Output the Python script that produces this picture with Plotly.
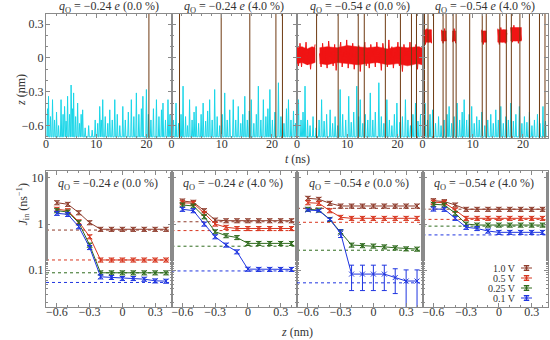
import plotly.graph_objects as go

# ---------------- data: top panels (trajectories) ----------------
q_labels = ["−0.24", "−0.24", "−0.54", "−0.54"]
pct_labels = ["0.0", "4.0", "0.0", "4.0"]

spk_t = [
    [0.3, 0.5, 0.9, 1.3, 1.7, 2.1, 2.5, 3.0, 3.4, 3.7, 4.0, 4.3, 4.7, 5.0, 5.3, 5.5, 5.9, 6.3, 6.7, 7.0,
     7.3, 7.8, 8.5, 9.2, 9.8, 10.3, 10.7, 11.0, 11.3, 11.8, 12.3, 12.7, 13.2, 13.7, 14.2, 14.7, 15.3, 15.8,
     16.4, 17.0, 17.5, 18.0, 18.5, 19.0, 19.3, 20.0, 20.4, 20.9, 21.4, 22.0, 22.5, 23.0, 23.3, 23.8, 24.3, 24.7],
    [0.4, 0.9, 1.4, 1.9, 2.3, 2.8, 3.2, 3.6, 4.1, 4.5, 4.9, 5.4, 5.9, 6.3, 6.8, 7.2, 7.6, 8.1, 8.6, 9.1,
     9.6, 10.1, 10.6, 11.1, 11.6, 12.3, 12.8, 13.3, 13.8, 14.2, 14.6, 15.1, 15.5, 15.9, 16.4, 16.9, 17.3,
     17.8, 18.3, 18.8, 19.2, 19.6, 20.1, 20.6, 21.3, 21.8, 22.4, 22.9, 23.3, 23.8, 24.3, 24.7],
    [0.3, 0.8, 1.2, 1.6, 2.1, 2.6, 3.2, 3.8, 4.4, 4.9, 5.4, 5.9, 6.6, 7.1, 7.6, 8.1, 8.6, 9.1, 9.7, 10.3,
     10.8, 11.3, 11.9, 12.3, 12.6, 13.1, 13.6, 14.1, 14.6, 15.1, 15.6, 16.3, 16.8, 17.3, 17.9, 18.4, 18.9,
     19.4, 19.9, 20.5, 21.0, 21.6, 22.1, 22.6, 23.1, 23.6, 24.1, 24.6],
    [0.5, 1.0, 1.5, 2.0, 2.6, 3.2, 3.7, 4.3, 4.9, 5.3, 5.8, 6.3, 6.9, 7.4, 7.9, 8.3, 8.8, 9.3, 9.8, 10.3,
     10.8, 11.3, 11.8, 12.4, 13.0, 13.6, 14.1, 14.6, 15.1, 15.6, 16.1, 16.6, 17.1, 17.6, 18.1, 18.6, 19.3,
     19.8, 20.3, 20.8, 21.3, 21.8, 22.3, 22.9, 23.4, 24.0, 24.5],
]
spk_z = [
    [-0.45, -0.34, -0.52, -0.37, -0.55, -0.48, -0.60, -0.37, -0.50, -0.43, -0.56, -0.34, -0.50, -0.24, -0.45,
     -0.31, -0.52, -0.40, -0.58, -0.50, -0.46, -0.62, -0.60, -0.64, -0.55, -0.58, -0.43, -0.55, -0.37, -0.52,
     -0.58, -0.46, -0.55, -0.37, -0.50, -0.60, -0.43, -0.55, -0.48, -0.37, -0.52, -0.31, -0.50, -0.45, -0.34,
     -0.28, -0.50, -0.55, -0.45, -0.37, -0.52, -0.46, -0.40, -0.55, -0.37, -0.50],
    [-0.55, -0.40, -0.58, -0.50, -0.25, -0.52, -0.60, -0.37, -0.55, -0.48, -0.43, -0.58, -0.50, -0.40, -0.56,
     -0.47, -0.37, -0.55, -0.28, -0.52, -0.60, -0.50, -0.31, -0.55, -0.46, -0.37, -0.55, -0.43, -0.58, -0.50,
     -0.34, -0.55, -0.47, -0.37, -0.58, -0.50, -0.25, -0.55, -0.37, -0.52, -0.45, -0.28, -0.55, -0.48, -0.22,
     -0.52, -0.58, -0.45, -0.37, -0.55, -0.47, -0.58],
    [-0.37, -0.55, -0.48, -0.25, -0.55, -0.60, -0.52, -0.62, -0.55, -0.37, -0.56, -0.50, -0.46, -0.58, -0.52,
     -0.60, -0.28, -0.50, -0.55, -0.34, -0.57, -0.48, -0.25, -0.52, -0.37, -0.58, -0.50, -0.55, -0.31, -0.55,
     -0.48, -0.22, -0.52, -0.58, -0.37, -0.55, -0.60, -0.50, -0.40, -0.57, -0.52, -0.37, -0.55, -0.60, -0.50,
     -0.40, -0.56, -0.50],
    [-0.40, -0.55, -0.50, -0.46, -0.58, -0.52, -0.60, -0.55, -0.50, -0.43, -0.58, -0.52, -0.40, -0.55, -0.48,
     -0.37, -0.55, -0.50, -0.43, -0.58, -0.52, -0.55, -0.48, -0.60, -0.55, -0.50, -0.58, -0.46, -0.55, -0.43,
     -0.58, -0.52, -0.55, -0.40, -0.56, -0.50, -0.43, -0.58, -0.52, -0.57, -0.48, -0.60, -0.55, -0.50, -0.58,
     -0.43, -0.56],
]

cross_t = [
    [20.5],
    [1.6, 9.9, 15.6, 20.8, 22.1],
    [3.9, 8.2, 12.2, 13.4, 17.6, 20.6, 22.8, 23.8],
    [0.4, 1.1, 2.2, 4.1, 4.7, 6.1, 6.7, 9.4, 11.9, 12.7, 15.4, 16.7, 17.7, 19.4, 21.3, 23.3, 24.4],
]

# panel 3: dense red band around z ~ 0 (envelope + noisy trace)
band3_t = [0.0, 1.0, 2.0, 3.0, 3.6, None, 4.5, 6.0, 8.0, 10.0, 12.0, 14.0, 16.0, 18.0, 20.0, 22.0, 24.0, 24.9]
band3_hi = [0.09, 0.10, 0.08, 0.10, 0.09, None, 0.09, 0.10, 0.09, 0.11, 0.10, 0.09, 0.10, 0.08, 0.10, 0.09, 0.10, 0.09]
band3_lo = [-0.05, -0.04, -0.06, -0.05, -0.04, None, -0.05, -0.06, -0.04, -0.05, -0.06, -0.05, -0.04, -0.06, -0.05,
            -0.07, -0.05, -0.06]
red_t3 = [0.0, 0.3, 0.6, 0.9, 1.2, 1.5, 1.8, 2.1, 2.4, 2.7, 3.0, 3.3, 3.6, None,
          4.5, 4.8, 5.1, 5.4, 5.7, 6.0, 6.3, 6.6, 6.9, 7.2, 7.5, 7.8, 8.1, 8.4, 8.7, 9.0, 9.3, 9.6, 9.9,
          10.2, 10.5, 10.8, 11.1, 11.4, 11.7, 12.0, 12.3, 12.6, 12.9, 13.2, 13.5, 13.8, 14.1, 14.4, 14.7,
          15.0, 15.3, 15.6, 15.9, 16.2, 16.5, 16.8, 17.1, 17.4, 17.7, 18.0, 18.3, 18.6, 18.9, 19.2, 19.5,
          19.8, 20.1, 20.4, 20.7, 21.0, 21.3, 21.6, 21.9, 22.2, 22.5, 22.8, 23.1, 23.4, 23.7, 24.0, 24.3,
          24.6, 24.9]
red_z3 = [0.05, -0.07, 0.13, -0.08, 0.07, -0.03, 0.14, -0.06, 0.08, -0.10, 0.06, 0.02, 0.12, None,
          0.04, -0.08, 0.13, -0.05, 0.08, -0.09, 0.15, 0.01, 0.06, -0.07,
          0.12, -0.11, 0.07, 0.03, 0.14, -0.08, 0.05, -0.04, 0.16, -0.09,
          0.08, -0.03, 0.13, -0.10, 0.06, -0.05, 0.11, -0.12, 0.07, 0.02,
          0.14, -0.07, 0.05, -0.09, 0.12, 0.01, 0.08, -0.08, 0.14, -0.04,
          0.06, -0.11, 0.13, 0.03, 0.07, -0.08, 0.16, -0.05, 0.10, -0.09,
          0.05, -0.02, 0.14, -0.07, 0.08, -0.12, 0.12, 0.02, 0.06, -0.06,
          0.14, -0.08, 0.07, -0.03, 0.12, -0.10, 0.10, 0.01, 0.05]

# panel 4: red patches around z ~ 0.2
patch4_t0 = [0.3, 3.8, 6.0, 11.8, 15.0, 17.6]
patch4_t1 = [1.8, 4.7, 6.6, 12.7, 16.8, 19.7]
patch4_lo = [0.14, 0.15, 0.15, 0.14, 0.14, 0.15]
patch4_hi = [0.25, 0.24, 0.24, 0.24, 0.25, 0.27]
red_t4 = [0.3, 0.6, 0.9, 1.2, 1.5, 1.8, None, 3.8, 4.1, 4.4, 4.7, None, 6.0, 6.3, 6.6, None,
          11.8, 12.1, 12.4, 12.7, None, 15.0, 15.3, 15.6, 15.9, 16.2, 16.5, 16.8, None,
          17.6, 17.9, 18.2, 18.5, 18.8, 19.1, 19.4, 19.7]
red_z4 = [0.20, 0.12, 0.26, 0.14, 0.25, 0.13, None, 0.25, 0.13, 0.26, 0.15, None, 0.14, 0.26, 0.13, None,
          0.25, 0.12, 0.24, 0.14, None, 0.26, 0.12, 0.27, 0.14, 0.25, 0.13, 0.22, None,
          0.27, 0.14, 0.29, 0.15, 0.26, 0.13, 0.25, 0.16]

# ---------------- data: bottom panels (J_in vs z) ----------------
z_pos = [-0.6, -0.5, -0.4, -0.3, -0.2, -0.1, 0.0, 0.1, 0.2, 0.3, 0.4]
volt_labels = ["1.0 V", "0.5 V", "0.25 V", "0.1 V"]

J_p1 = [
    [2.9, 2.68, 1.76, 1.07, 0.77, 0.77, 0.77, 0.77, 0.77, 0.77, 0.77],
    [2.09, 1.95, 1.12, 0.53, 0.166, 0.166, 0.166, 0.166, 0.166, 0.166, 0.166],
    [1.95, 1.82, 1.07, 0.35, 0.0875, 0.0875, 0.0875, 0.0875, 0.0875, 0.0875, 0.0875],
    [1.71, 1.62, 0.875, 0.31, 0.0716, 0.0695, 0.066, 0.066, 0.0637, 0.0586, 0.0577],
]
J_p2 = [
    [3.16, 2.97, 1.95, 1.22, 1.18, 1.18, 1.18, 1.18, 1.18, 1.18, 1.18],
    [2.9, 2.82, 1.71, 1.0, 0.85, 0.80, 0.80, 0.80, 0.80, 0.80, 0.80],
    [2.59, 2.46, 1.44, 0.68, 0.56, 0.51, 0.38, 0.38, 0.38, 0.38, 0.38],
    [2.09, 1.95, 1.0, 0.53, 0.35, 0.25, 0.105, 0.104, 0.104, 0.104, 0.104],
]
J_p3 = [
    [3.62, 3.44, 2.82, 2.46, 2.46, 2.46, 2.46, 2.46, 2.46, 2.46, 2.46],
    [2.9, 2.82, 1.95, 1.4, 1.33, 1.33, 1.33, 1.33, 1.33, 1.33, 1.33],
    [2.09, 2.01, 1.26, 0.68, 0.35, 0.34, 0.333, 0.32, 0.305, 0.29, 0.286],
    [2.01, 1.95, 1.26, 0.63, 0.082, 0.082, 0.082, 0.082, 0.069, 0.058, 0.058],
]
J_p4 = [
    [3.21, 3.06, 2.59, 2.09, 2.09, 2.09, 2.09, 2.09, 2.09, 2.09, 2.09],
    [2.97, 2.9, 2.01, 1.33, 1.33, 1.33, 1.33, 1.33, 1.33, 1.33, 1.33],
    [2.68, 2.59, 1.71, 1.0, 0.95, 0.95, 0.95, 0.95, 0.95, 0.95, 0.95],
    [2.12, 2.09, 1.33, 0.85, 0.80, 0.705, 0.66, 0.66, 0.66, 0.66, 0.66],
]
J_all = [J_p1, J_p2, J_p3, J_p4]
err_p3_01 = [0.1, 0.1, 0.08, 0.12, 0.046, 0.046, 0.046, 0.046, 0.038, 0.043, 0.043]

ref_lines = [
    [0.74, 0.166, 0.0875, 0.054],
    [1.12, 0.72, 0.33, 0.096],
    [2.19, 1.09, 0.27, 0.053],
    [2.1, 1.26, 0.9, 0.58],
]

# ---------------- styling ----------------
colors = ["#8e3b2b", "#d8361f", "#2f6b1d", "#1f35e0"]
CYAN = "#1ad6e8"
RED = "#f01414"
CROSS = "#6e3a12"
FONT = "Liberation Serif, DejaVu Serif, serif"
FRAME = "#8a8a8a"
TXT = "#333333"

W, H = 550, 340
ML, MR, MT, MB = 46, 2, 14, 33
PW, PH = W - ML - MR, H - MT - MB
TOP_DOM = [1 - (138 - MT) / PH, 1.0]
BOT_DOM = [0.0, 1 - (171 - MT) / PH]
Z_TOP = [-0.71, 0.39]
FLOOR = -0.70


def px(x):
    return (x - ML) / PW


def py(y):
    return 1 - (y - MT) / PH


fig = go.Figure()

for k in range(4):
    xa, ya = f"x{k + 1}", f"y{k + 1}"
    xs, ys = [], []
    for t, z in zip(spk_t[k], spk_z[k]):
        xs += [t - 0.12, t, t + 0.12]
        ys += [FLOOR, z, FLOOR]
    fig.add_trace(go.Scatter(x=xs, y=ys, mode="lines", line=dict(color=CYAN, width=1),
                             xaxis=xa, yaxis=ya, hoverinfo="skip"))
    if k == 2:
        bx, by = [], []
        seg_t, seg_hi, seg_lo = [], [], []
        for t, hi, lo in zip(band3_t + [None], band3_hi + [None], band3_lo + [None]):
            if t is None:
                bx += seg_t + seg_t[::-1] + [None]
                by += seg_hi + seg_lo[::-1] + [None]
                seg_t, seg_hi, seg_lo = [], [], []
            else:
                seg_t.append(t)
                seg_hi.append(hi)
                seg_lo.append(lo)
        fig.add_trace(go.Scatter(x=bx, y=by, mode="lines", fill="toself", fillcolor=RED,
                                 line=dict(color=RED, width=0.5), xaxis=xa, yaxis=ya, hoverinfo="skip"))
        fig.add_trace(go.Scatter(x=red_t3, y=red_z3, mode="lines", line=dict(color=RED, width=1),
                                 xaxis=xa, yaxis=ya, connectgaps=False, hoverinfo="skip"))
    if k == 3:
        bx, by = [], []
        for t0, t1, lo, hi in zip(patch4_t0, patch4_t1, patch4_lo, patch4_hi):
            bx += [t0, t1, t1, t0, t0, None]
            by += [lo, lo, hi, hi, lo, None]
        fig.add_trace(go.Scatter(x=bx, y=by, mode="lines", fill="toself", fillcolor=RED,
                                 line=dict(color=RED, width=0.5), xaxis=xa, yaxis=ya, hoverinfo="skip"))
        fig.add_trace(go.Scatter(x=red_t4, y=red_z4, mode="lines", line=dict(color=RED, width=1),
                                 xaxis=xa, yaxis=ya, connectgaps=False, hoverinfo="skip"))
    cx, cy = [], []
    for t in cross_t[k]:
        cx += [t, t, None]
        cy += [Z_TOP[0], Z_TOP[1], None]
    fig.add_trace(go.Scatter(x=cx, y=cy, mode="lines", line=dict(color=CROSS, width=1),
                             xaxis=xa, yaxis=ya, hoverinfo="skip"))

for k in range(4):
    xa, ya = f"x{k + 5}", f"y{k + 5}"
    for s in range(4):
        fig.add_trace(go.Scatter(x=[-0.7, 0.45], y=[ref_lines[k][s]] * 2, mode="lines",
                                 line=dict(color=colors[s], width=1, dash="3px,3px"),
                                 xaxis=xa, yaxis=ya, hoverinfo="skip"))
    for s in range(4):
        if k == 2 and s == 3:
            ey = dict(type="data", array=err_p3_01, color=colors[s], thickness=1, width=2.5)
        else:
            ey = dict(type="percent", value=10, color=colors[s], thickness=1, width=2.5)
        fig.add_trace(go.Scatter(x=z_pos, y=J_all[k][s], mode="lines+markers",
                                 line=dict(color=colors[s], width=1),
                                 marker=dict(symbol="x-thin", size=5, line=dict(width=1, color=colors[s]),
                                             color=colors[s]),
                                 error_y=ey, xaxis=xa, yaxis=ya, hoverinfo="skip"))

# legend (custom, inside last panel) on a pixel-coordinate helper axis
leg_rows = [268, 278, 288, 298]
for s in range(4):
    fig.add_trace(go.Scatter(x=[521, 532], y=[leg_rows[s]] * 2, mode="lines",
                             line=dict(color=colors[s], width=1), xaxis="x9", yaxis="y9",
                             hoverinfo="skip"))
    fig.add_trace(go.Scatter(x=[526.5], y=[leg_rows[s]], mode="markers",
                             marker=dict(symbol="x-thin", size=5, line=dict(width=1, color=colors[s])),
                             error_y=dict(type="constant", value=2.5, color=colors[s], thickness=1, width=2.5),
                             xaxis="x9", yaxis="y9", hoverinfo="skip"))

axis_common = dict(showline=True, linecolor=FRAME, linewidth=1, mirror="allticks", ticks="inside",
                   ticklen=4, tickcolor=FRAME, showgrid=False, zeroline=False, ticklabelstandoff=-5,
                   tickfont=dict(family=FONT, size=12, color=TXT))

layout = dict(
    width=W, height=H, margin=dict(l=ML, r=MR, t=MT, b=MB),
    paper_bgcolor="white", plot_bgcolor="rgba(0,0,0,0)", showlegend=False,
    font=dict(family=FONT, color=TXT, size=12), hovermode=False,
)
for k in range(4):
    dom = [k * 0.25, (k + 1) * 0.25]
    layout[f"xaxis{k + 1}"] = dict(axis_common, domain=dom, anchor=f"y{k + 1}", range=[0, 25],
                                   tickvals=[0, 10, 20], ticktext=["0", "10", "20"],
                                   minor=dict(ticks="inside", ticklen=2, dtick=2, tickcolor=FRAME))
    layout[f"yaxis{k + 1}"] = dict(axis_common, domain=TOP_DOM, anchor=f"x{k + 1}", range=Z_TOP,
                                   tickvals=[0.3, 0, -0.3, -0.6], ticktext=["0.3", "0", "−0.3", "−0.6"],
                                   showticklabels=(k == 0), ticklabelstandoff=-1,
                                   minor=dict(ticks="inside", ticklen=2, dtick=0.1, tickcolor=FRAME))
    layout[f"xaxis{k + 5}"] = dict(axis_common, domain=dom, anchor=f"y{k + 5}", range=[-0.7, 0.45],
                                   tickvals=[-0.6, -0.3, 0, 0.3], ticktext=["−0.6", "−0.3", "0", "0.3"],
                                   ticklabelstandoff=-6,
                                   minor=dict(ticks="inside", ticklen=2, dtick=0.1, tickcolor=FRAME))
    layout[f"yaxis{k + 5}"] = dict(axis_common, domain=BOT_DOM, anchor=f"x{k + 5}", type="log",
                                   range=[-1.8, 1.15], tickvals=[0.1, 1, 10], ticktext=["0.1", "1", "10"],
                                   showticklabels=(k == 0), ticklabelstandoff=-1,
                                   minor=dict(ticks="inside", ticklen=2, tickcolor=FRAME))
layout["xaxis9"] = dict(domain=[0, 1], range=[ML, W - MR], visible=False, anchor="y9", fixedrange=True)
layout["yaxis9"] = dict(domain=[0, 1], range=[H - MB, MT], visible=False, anchor="x9", fixedrange=True)

annots = []
for k in range(4):
    cx = ML + PW * (k + 0.5) / 4
    title = f"<i>q</i><sub>O</sub> = {q_labels[k]} <i>e</i> ({pct_labels[k]} %)"
    annots.append(dict(x=px(cx), y=py(7), xref="paper", yref="paper", text=title, showarrow=False,
                       font=dict(family=FONT, size=12, color=TXT), xanchor="center", yanchor="middle"))
    annots.append(dict(x=px(cx - 1), y=py(184), xref="paper", yref="paper", text=title, showarrow=False,
                       font=dict(family=FONT, size=12, color=TXT), xanchor="center", yanchor="middle"))
for s in range(4):
    annots.append(dict(x=517, y=leg_rows[s], xref="x9", yref="y9", text=volt_labels[s], showarrow=False,
                       font=dict(family=FONT, size=10, color=TXT), xanchor="right", yanchor="middle",
                       borderpad=0))
annots += [
    dict(x=px(12), y=py(72), xref="paper", yref="paper", text="<i>z</i> (nm)", textangle=-90,
         showarrow=False, font=dict(family=FONT, size=12, color=TXT)),
    dict(x=px(297), y=py(159), xref="paper", yref="paper", text="<i>t</i> (ns)",
         showarrow=False, font=dict(family=FONT, size=12, color=TXT)),
    dict(x=px(12), y=py(228), xref="paper", yref="paper",
         text="<i>J</i><sub>in</sub> (ns<sup>−1</sup>)", textangle=-90,
         showarrow=False, font=dict(family=FONT, size=12, color=TXT)),
    dict(x=px(297), y=py(324), xref="paper", yref="paper", text="<i>z</i> (nm)", yanchor="top",
         borderpad=0, showarrow=False, font=dict(family=FONT, size=12, color=TXT)),
]
layout["annotations"] = annots
fig.update_layout(**layout)
fig.write_html("out.html", config={"displayModeBar": False, "staticPlot": True},
               post_script="document.body.style.margin='0';document.body.style.overflow='hidden';")
